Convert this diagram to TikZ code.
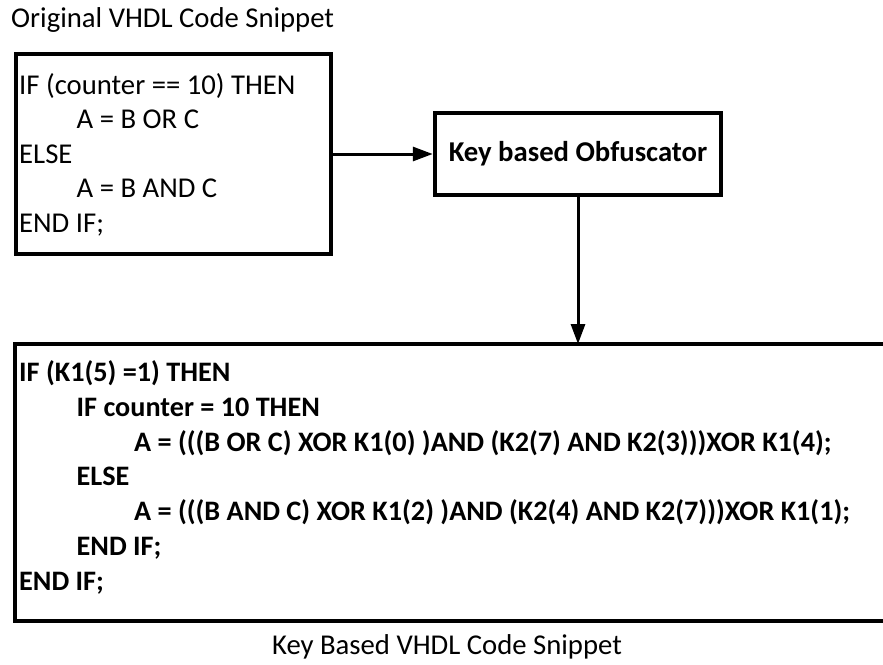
\documentclass[tikz,border=0pt]{standalone}
\usepackage{fontspec}
\setmainfont{Carlito}
\usetikzlibrary{arrows.meta}

\tikzset{
  codebox/.style={draw=black, line width=4.5pt, fill=white, inner sep=0pt, outer sep=0pt,
    anchor=north west},
  codetext/.style={inner sep=0pt, anchor=base west, align=left,
    font=\fontsize{28.7}{34.5}\selectfont},
  label/.style={inner sep=0pt, anchor=base west, font=\fontsize{28.7}{34.6}\selectfont},
  flow/.style={line width=3pt, -{Triangle[length=20pt,width=14pt]}},
}
\newcommand{\indentA}{\hspace*{57.5pt}}

\begin{document}
\begin{tikzpicture}[x=1pt, y=-1pt]
  \clip (0,0) rectangle (883,664);
  \fill[white] (0,0) rectangle (883,664);

  % source listing (text node anchored at the baseline of its last line)
  \node[label] (origcap) at (11,27) {Original VHDL Code Snippet};
  \node[codebox, minimum width=315pt, minimum height=200pt] (orig) at (16,54) {};
  \node[codetext] (origtxt) at (19,232)
    {IF (counter == 10) THEN\\
     \indentA A = B OR C\\
     ELSE\\
     \indentA A = B AND C\\
     END IF;};

  % obfuscation step
  \node[draw=black, line width=4.5pt, fill=white, minimum width=286pt, minimum height=82pt,
        inner sep=0pt, font=\fontsize{28.7}{34.6}\selectfont\bfseries]
    (obf) at (578,154) {Key based Obfuscator};

  % obfuscated listing
  \node[codebox, minimum width=900pt, minimum height=277pt] (code) at (15,344) {};
  \node[codetext, font=\fontsize{28.2}{34.67}\selectfont\bfseries] (codetxt) at (19,590)
    {IF (K1(5) =1) THEN\\
     \indentA IF counter = 10 THEN\\
     \indentA\indentA A = (((B OR C) XOR K1(0) )AND (K2(7) AND K2(3)))XOR K1(4);\\
     \indentA ELSE\\
     \indentA\indentA A = (((B AND C) XOR K1(2) )AND (K2(4) AND K2(7)))XOR K1(1);\\
     \indentA END IF;\\
     END IF;};
  \node[label, anchor=base] (codecap) at (447,654) {Key Based VHDL Code Snippet};

  % connectors
  \draw[flow] (orig.east) -- (obf.west);
  \draw[flow] (obf.south) -- (obf.south |- code.north);
\end{tikzpicture}
\end{document}
